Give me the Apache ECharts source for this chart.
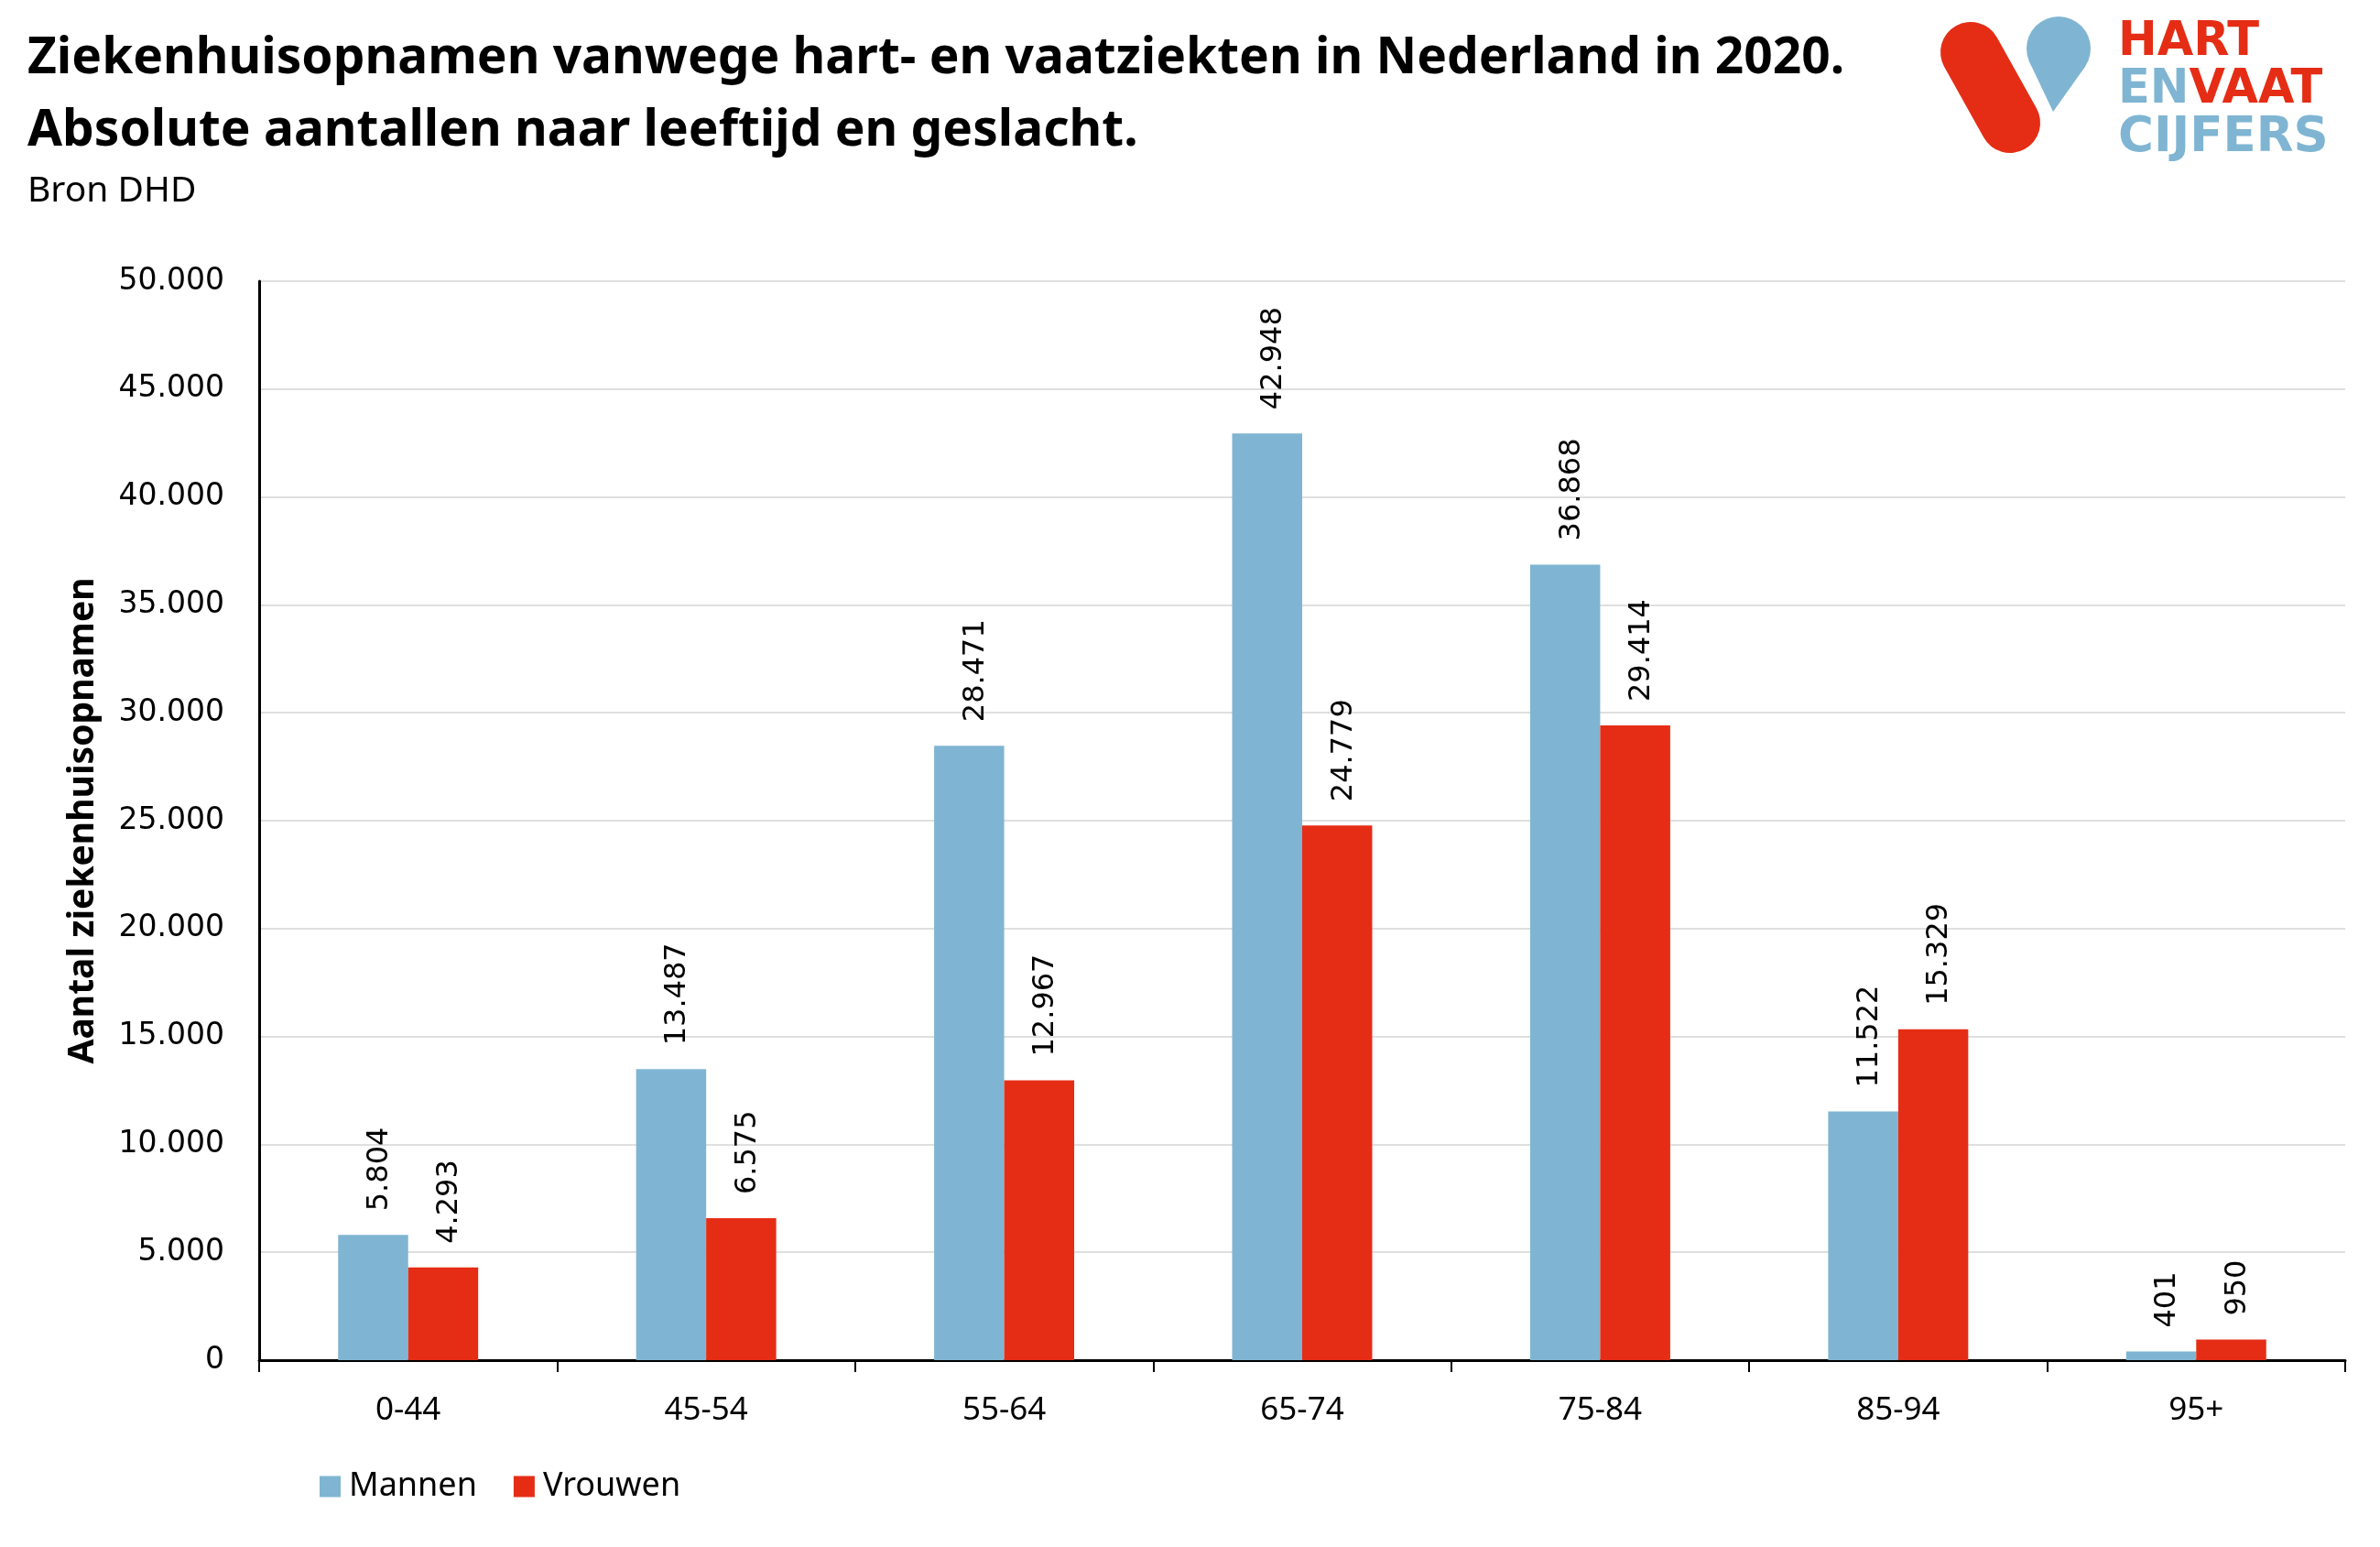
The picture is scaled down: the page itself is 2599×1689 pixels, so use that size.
<!DOCTYPE html>
<html>
<head>
<meta charset="utf-8">
<script src="https://cdn.jsdelivr.net/npm/echarts@6/dist/echarts.min.js"></script>
<style>
html,body{margin:0;padding:0;background:#fff;}
#chart{width:2599px;height:1689px;}
</style>
</head>
<body>
<div id="chart"></div>
<script>
const categories = ['0-44','45-54','55-64','65-74','75-84','85-94','95+'];
const mannen = [5804, 13487, 28471, 42948, 36868, 11522, 401];
const vrouwen = [4293, 6575, 12967, 24779, 29414, 15329, 950];
const seriesNames = ['Mannen','Vrouwen'];
const titleLines = ['Ziekenhuisopnamen vanwege hart- en vaatziekten in Nederland in 2020.','Absolute aantallen naar leeftijd en geslacht.'];
const sourceText = 'Bron DHD';
const yAxisName = 'Aantal ziekenhuisopnamen';

const BLUE = '#7fb5d2';
const RED = '#e52d16';
const FONT = "'Noto Sans', 'Open Sans', sans-serif";
const NUMFONT = "'DejaVu Sans', sans-serif";
const LOGOFONT = "bold 51px 'DejaVu Sans', sans-serif";

function fmt(v){ return String(v).replace(/\B(?=(\d{3})+(?!\d))/g, '.'); }

function txt(x, y, text, font, fill){
  return {type: 'text', x: x, y: y, style: {text: text, font: font, fill: fill, verticalAlign: 'top', textVerticalAlign: 'top'}};
}

const labelCfg = {show: true, position: 'top', rotate: 90, align: 'left', verticalAlign: 'middle', distance: 26,
  offset: [0, 7], fontFamily: NUMFONT, fontSize: 32, color: '#000', formatter: p => fmt(p.value)};

const chart = echarts.init(document.getElementById('chart'));
const option = {
  backgroundColor: '#ffffff',
  animation: false,
  grid: {left: 283, right: 38, top: 307, bottom: 204, containLabel: false},
  legend: {
    data: seriesNames,
    left: 344, top: 1600,
    itemWidth: 23, itemHeight: 23, itemGap: 40,
    icon: 'rect',
    textStyle: {fontFamily: FONT, fontSize: 36, color: '#000', padding: [0,0,0,4]}
  },
  xAxis: {
    type: 'category',
    data: categories,
    axisLine: {lineStyle: {color: '#000', width: 3}},
    axisTick: {show: true, length: 13, lineStyle: {color: '#000', width: 2}},
    axisLabel: {fontFamily: FONT, fontSize: 35, color: '#000', margin: 38, interval: 0},
    splitLine: {show: false}
  },
  yAxis: {
    type: 'value',
    min: 0, max: 50000, interval: 5000,
    name: yAxisName,
    nameLocation: 'middle',
    nameGap: 173,
    nameRotate: 90,
    nameTextStyle: {fontFamily: FONT, fontWeight: 'bold', fontSize: 39, color: '#000'},
    axisLine: {show: true, lineStyle: {color: '#000', width: 3}},
    axisTick: {show: false},
    axisLabel: {fontFamily: NUMFONT, fontSize: 33, color: '#000', margin: 38, formatter: fmt},
    splitLine: {lineStyle: {color: '#d4d4d4', width: 1.5}}
  },
  series: [
    {
      name: seriesNames[0], type: 'bar', data: mannen,
      itemStyle: {color: BLUE},
      barGap: '0%', barCategoryGap: '53%',
      label: labelCfg
    },
    {
      name: seriesNames[1], type: 'bar', data: vrouwen,
      itemStyle: {color: RED},
      barGap: '0%', barCategoryGap: '53%',
      label: labelCfg
    }
  ],
  graphic: [
    txt(30, 37, titleLines[0], "bold 55px 'Noto Sans', sans-serif", '#000'),
    txt(30, 116, titleLines[1], "bold 55px 'Noto Sans', sans-serif", '#000'),
    txt(30, 189, sourceText, "39px 'Noto Sans', sans-serif", '#000'),
    // logo
    {type: 'line', shape: {x1: 2152, y1: 57, x2: 2195, y2: 134}, style: {stroke: RED, lineWidth: 66, lineCap: 'round'}},
    {type: 'circle', shape: {cx: 2248, cy: 53, r: 35}, style: {fill: BLUE}},
    {type: 'polygon', shape: {points: [[2242, 122], [2216.3, 67.7], [2248, 53], [2276.8, 72.9]]}, style: {fill: BLUE}},
    txt(2313, 21, 'HART', LOGOFONT, RED),
    {type: 'text', x: 2313, y: 73, style: {
      text: '{b|EN}{r|VAAT}', font: LOGOFONT, verticalAlign: 'top', textVerticalAlign: 'top',
      rich: {b: {fill: BLUE, font: LOGOFONT}, r: {fill: RED, font: LOGOFONT}}}},
    txt(2313, 125, 'CIJFERS', "bold 53px 'DejaVu Sans', sans-serif", BLUE)
  ]
};
chart.setOption(option);
</script>
</body>
</html>
